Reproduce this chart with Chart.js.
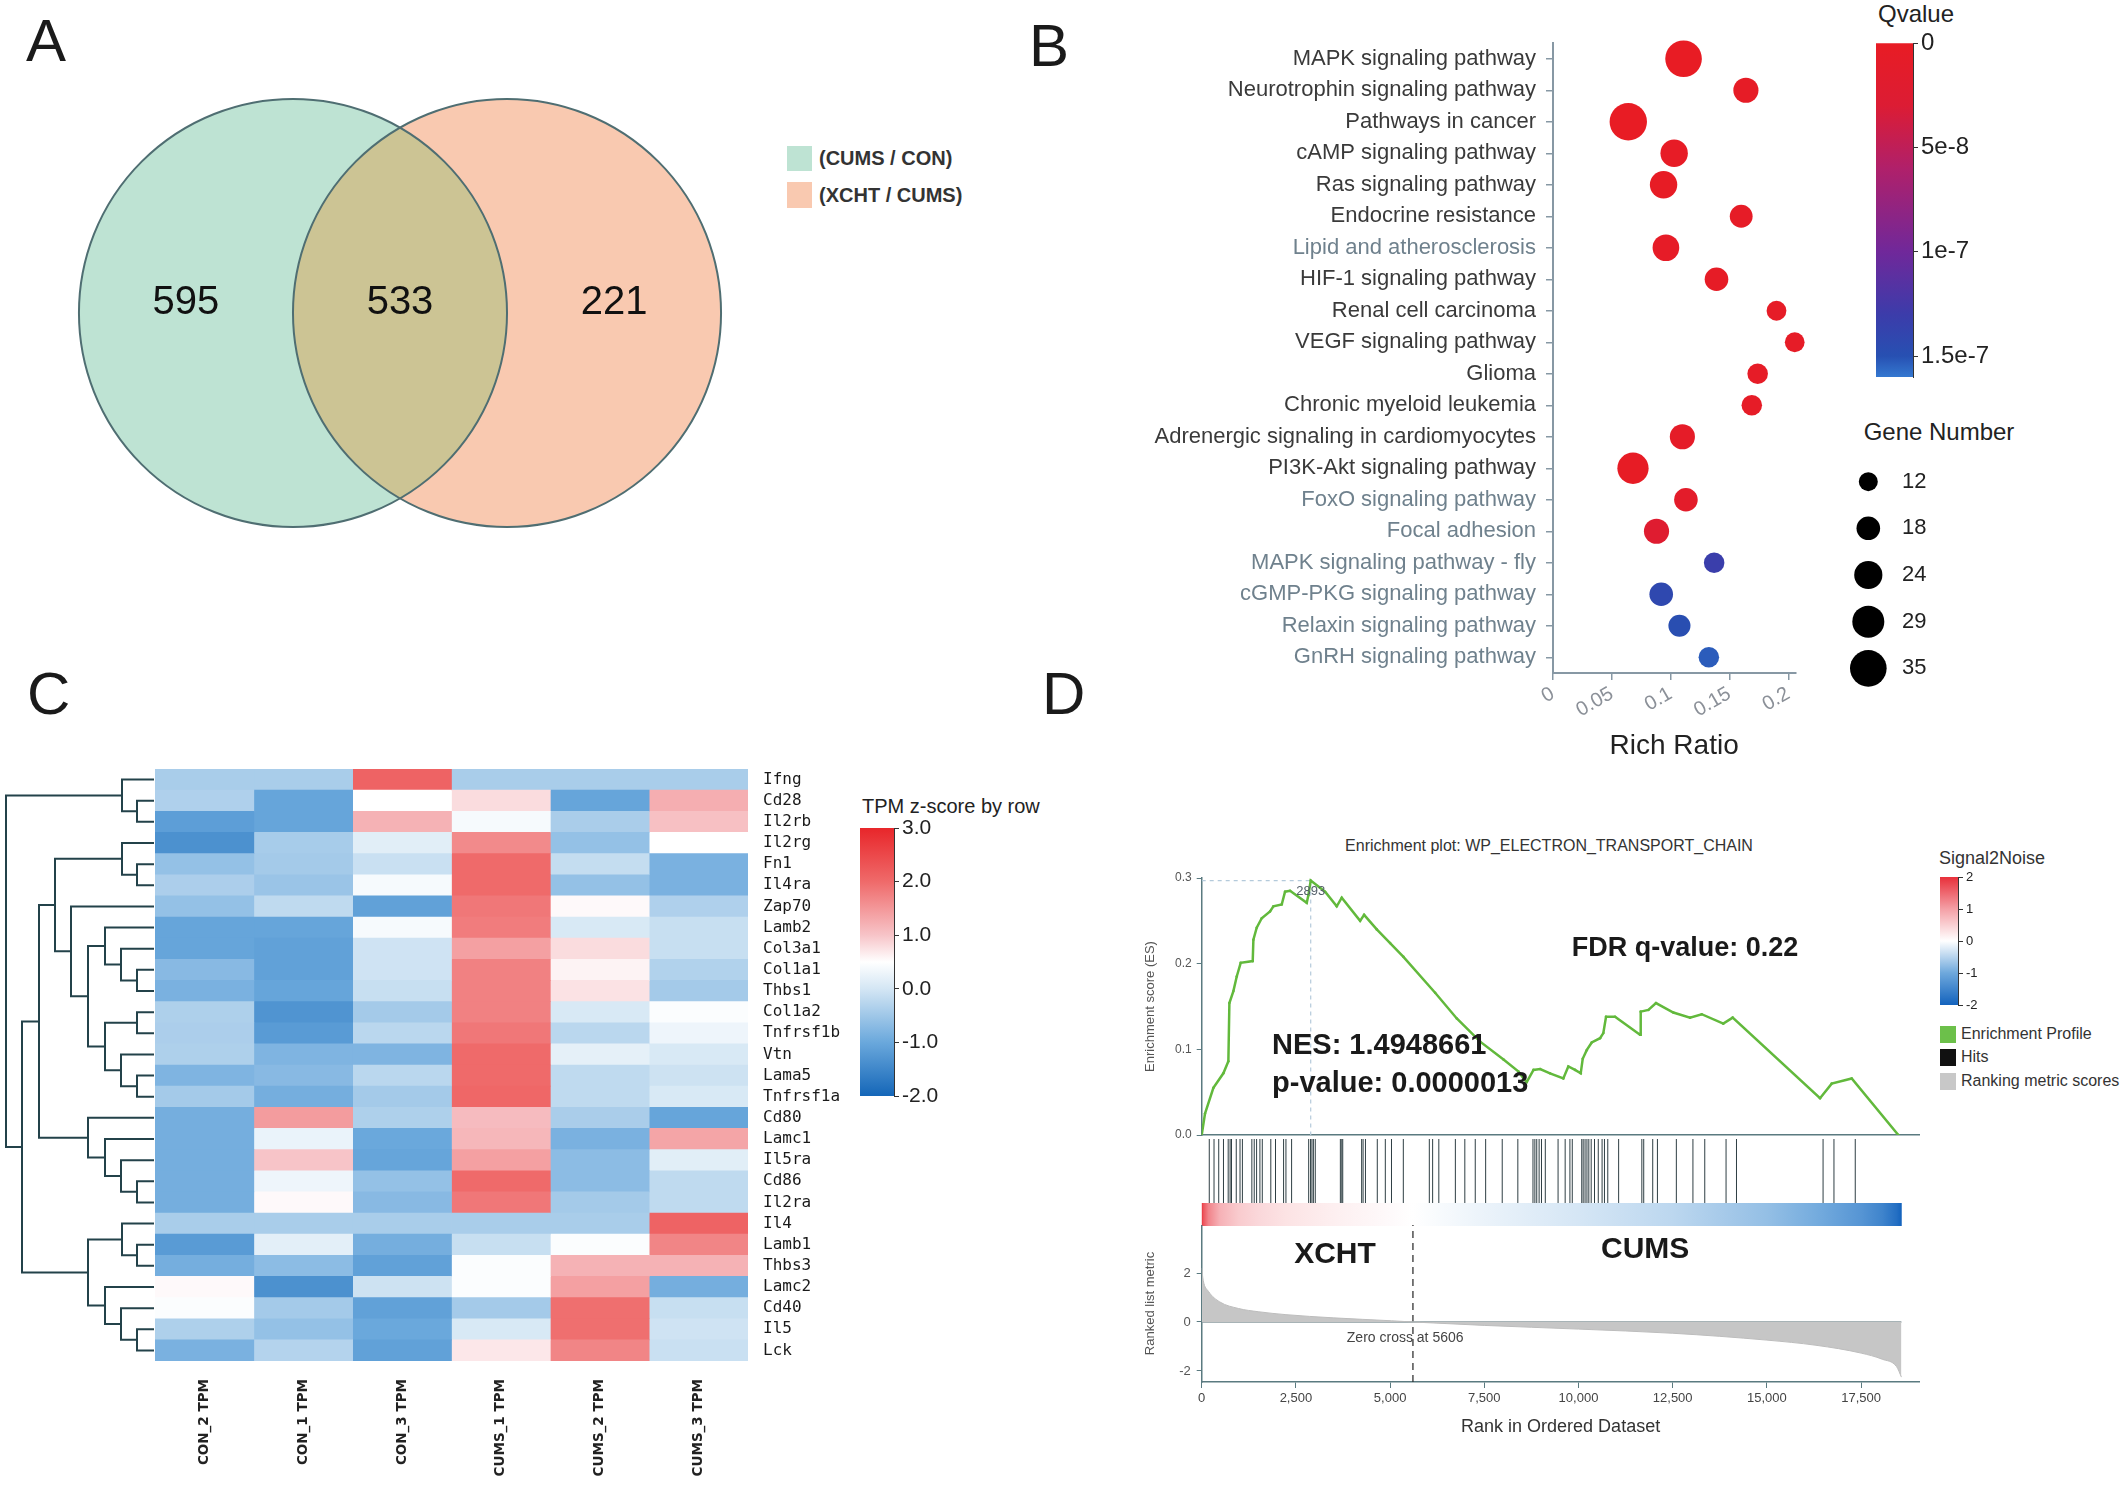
<!DOCTYPE html>
<html>
<head>
<meta charset="utf-8">
<title>Figure</title>
<script src="https://cdn.jsdelivr.net/npm/chart.js@4.4.1/dist/chart.umd.min.js"></script>
<style>
  html, body { margin: 0; padding: 0; background: #fff; }
  body { position: relative; width: 2128px; height: 1486px; overflow: hidden;
         font-family: "Liberation Sans", Arial, sans-serif; color: #222; }
  .t { position: absolute; white-space: nowrap; line-height: 30px; height: 30px; }
  .c { transform: translateX(-50%); }
  .panel { position: absolute; font-size: 60px; line-height: 60px; color: #1a1a1a; }
  .sw { position: absolute; }
</style>
</head>
<body>
<div class="panel" style="left:26px;top:11px">A</div>
<div class="panel" style="left:1029px;top:16px">B</div>
<div class="panel" style="left:27px;top:664px">C</div>
<div class="panel" style="left:1042px;top:664px">D</div>

<!-- venn legend -->
<div class="sw" style="left:787px;top:146px;width:25px;height:25px;background:#bee3d3"></div>
<div class="sw" style="left:787px;top:182px;width:25px;height:26px;background:#f9c9b0"></div>
<div class="t" id="vennLeg0" style="left:819px;top:143px;font-size:20px;font-weight:bold;color:#333"></div>
<div class="t" id="vennLeg1" style="left:819px;top:180px;font-size:20px;font-weight:bold;color:#333"></div>

<!-- legend titles -->
<div class="t c" style="left:1916px;top:-1px;font-size:24px">Qvalue</div>
<div class="t c" style="left:1939px;top:417px;font-size:24px">Gene Number</div>
<div class="t" style="left:862px;top:791px;font-size:20px">TPM z-score by row</div>
<div class="t c" style="left:1549px;top:831px;font-size:16px;color:#333">Enrichment plot: WP_ELECTRON_TRANSPORT_CHAIN</div>
<div class="t" style="left:1939px;top:843px;font-size:18px;color:#333">Signal2Noise</div>

<!-- gsea legend -->
<div class="sw" style="left:1940px;top:1026px;width:16px;height:17px;background:#6cc04a"></div>
<div class="sw" style="left:1940px;top:1049px;width:16px;height:17px;background:#111"></div>
<div class="sw" style="left:1940px;top:1073px;width:16px;height:17px;background:#c8c8c8"></div>
<div class="t" style="left:1961px;top:1019px;font-size:16px;color:#333">Enrichment Profile</div>
<div class="t" style="left:1961px;top:1042px;font-size:16px;color:#333">Hits</div>
<div class="t" style="left:1961px;top:1066px;font-size:16px;color:#333">Ranking metric scores</div>

<script>
// ---------- A: Venn
const vennSets = ['(CUMS / CON)', '(XCHT / CUMS)'];
const vennCounts = [595, 533, 221];   // only first, shared, only second

// ---------- B: KEGG enrichment bubbles
const pathways = [
  'MAPK signaling pathway', 'Neurotrophin signaling pathway', 'Pathways in cancer',
  'cAMP signaling pathway', 'Ras signaling pathway', 'Endocrine resistance',
  'Lipid and atherosclerosis', 'HIF-1 signaling pathway', 'Renal cell carcinoma',
  'VEGF signaling pathway', 'Glioma', 'Chronic myeloid leukemia',
  'Adrenergic signaling in cardiomyocytes', 'PI3K-Akt signaling pathway',
  'FoxO signaling pathway', 'Focal adhesion', 'MAPK signaling pathway - fly',
  'cGMP-PKG signaling pathway', 'Relaxin signaling pathway', 'GnRH signaling pathway'
];
const richRatio = [0.111, 0.164, 0.064, 0.103, 0.094, 0.160, 0.096, 0.139, 0.190, 0.2055,
                   0.174, 0.169, 0.110, 0.068, 0.113, 0.088, 0.137, 0.092, 0.1075, 0.1325];
const geneNumber = [35, 20, 36, 23, 23, 17, 22, 18, 13, 13, 14, 14, 20, 28, 18, 20, 14, 18, 16, 14];
const qValue = [2e-10, 4e-9, 1e-10, 3e-9, 2e-9, 6e-9, 5e-9, 4e-9, 5e-9, 5e-9,
                6e-9, 6e-9, 8e-9, 2e-9, 1.2e-8, 2.2e-8, 1.32e-7, 1.42e-7, 1.48e-7, 1.53e-7];
const richTicks = [0, 0.05, 0.1, 0.15, 0.2];
const qTicks = [0, 5e-8, 1e-7, 1.5e-7];
const qTickLabels = ['0', '5e-8', '1e-7', '1.5e-7'];
const geneNumberKeys = [12, 18, 24, 29, 35];

// ---------- C: heatmap (row z-scores)
const genes = ['Ifng', 'Cd28', 'Il2rb', 'Il2rg', 'Fn1', 'Il4ra', 'Zap70', 'Lamb2', 'Col3a1',
  'Col1a1', 'Thbs1', 'Col1a2', 'Tnfrsf1b', 'Vtn', 'Lama5', 'Tnfrsf1a', 'Cd80', 'Lamc1',
  'Il5ra', 'Cd86', 'Il2ra', 'Il4', 'Lamb1', 'Thbs3', 'Lamc2', 'Cd40', 'Il5', 'Lck'];
const samples = ['CON_2 TPM', 'CON_1 TPM', 'CON_3 TPM', 'CUMS_1 TPM', 'CUMS_2 TPM', 'CUMS_3 TPM'];
const zCon2  = [-0.41, -0.35, -1.15, -1.35, -0.6, -0.38, -0.6, -1.05, -1.05, -0.72, -0.85, -0.36, -0.38, -0.36,
                -0.8, -0.45, -0.9, -0.9, -0.9, -0.9, -0.9, -0.41, -1.2, -0.9, 0.55, 0.45, -0.36, -0.85];
const zCon1  = [-0.41, -1.05, -1.05, -0.42, -0.45, -0.55, -0.2, -1.05, -1.1, -1.1, -1.05, -1.3, -1.2, -0.8,
                -0.72, -0.9, 1.45, 0.25, 1.0, 0.3, 0.55, -0.41, 0.18, -0.68, -1.35, -0.45, -0.6, -0.3];
const zCon3  = [2.1, 0.5, 1.2, 0.15, -0.1, 0.4, -1.1, 0.4, -0.05, -0.05, -0.12, -0.45, -0.25, -0.8,
                -0.25, -0.45, -0.36, -1.0, -1.05, -0.6, -0.72, -0.41, -0.9, -1.1, -0.07, -1.1, -1.0, -1.1];
const zCums1 = [-0.41, 0.8, 0.4, 1.65, 2.0, 2.0, 1.85, 1.8, 1.4, 1.75, 1.75, 1.75, 1.85, 2.0,
                2.0, 2.05, 1.1, 1.15, 1.4, 2.0, 1.85, -0.41, -0.12, 0.45, 0.45, -0.45, 0.05, 0.7];
const zCums2 = [-0.41, -1.05, -0.4, -0.6, -0.15, -0.6, 0.55, 0.05, 0.8, 0.6, 0.75, 0.05, -0.25, 0.2,
                -0.2, -0.2, -0.4, -0.85, -0.68, -0.68, -0.45, -0.41, 0.45, 1.2, 1.4, 1.95, 1.95, 1.7];
const zCums3 = [-0.41, 1.25, 1.05, 0.5, -0.85, -0.85, -0.35, -0.12, -0.12, -0.33, -0.45, 0.45, 0.3, 0.05,
                -0.07, 0.05, -1.05, 1.35, 0.15, -0.2, -0.2, 2.1, 1.7, 1.2, -0.9, -0.12, -0.05, -0.1];
const zTicks = [-2, -1, 0, 1, 2, 3];
// row dendrogram: [left node, right node, height]; leaves are 0..27, merges numbered from 28
const geneTree = [
  [1, 2, 17], [0, 28, 32], [4, 5, 17], [3, 30, 32], [9, 10, 17], [8, 32, 33], [7, 33, 49],
  [11, 12, 17], [14, 15, 17], [13, 36, 33], [35, 37, 49], [34, 38, 66], [6, 39, 83], [31, 40, 99],
  [19, 20, 17], [18, 42, 33], [17, 43, 49], [16, 44, 66], [41, 45, 115],
  [22, 23, 17], [21, 47, 32], [26, 27, 17], [25, 49, 33], [24, 50, 49], [48, 51, 66],
  [46, 52, 132], [29, 53, 148]
];

// ---------- D: GSEA
const esRanks = [0, 88, 310, 575, 708, 735, 841, 930, 1035, 1354, 1372, 1460, 1593, 1814, 1903, 2124,
  2212, 2345, 2788, 2832, 2893, 3275, 3584, 3717, 4204, 4310, 4646, 5000, 5354, 6195, 6770, 7390,
  8010, 8408, 8540, 8629, 8806, 8983, 9244, 9597, 9730, 9908, 10059, 10112, 10218, 10351, 10572,
  10659, 10731, 10970, 11633, 11651, 11855, 12057, 12517, 12960, 13270, 13843, 14092, 16410, 16720,
  17251, 18488];
const esScores = [0, 0.025, 0.055, 0.072, 0.086, 0.154, 0.168, 0.185, 0.201, 0.203, 0.228, 0.242, 0.253,
  0.261, 0.267, 0.269, 0.284, 0.285, 0.271, 0.280, 0.297, 0.284, 0.267, 0.277, 0.250, 0.257, 0.240,
  0.224, 0.208, 0.166, 0.136, 0.109, 0.088, 0.074, 0.066, 0.062, 0.076, 0.077, 0.072, 0.066, 0.080,
  0.076, 0.072, 0.089, 0.099, 0.108, 0.113, 0.119, 0.138, 0.138, 0.117, 0.144, 0.146, 0.154, 0.143,
  0.137, 0.141, 0.130, 0.137, 0.043, 0.060, 0.066, 0];
const peakRank = 2893;
const hitRanks = [201, 327, 452, 578, 703, 754, 791, 917, 1017, 1080, 1331, 1394, 1457, 1545, 1608,
  1834, 1959, 2173, 2236, 2386, 2839, 2889, 2926, 2964, 3014, 3680, 3718, 3743, 4245, 4283, 4346,
  4660, 4873, 5037, 5351, 6041, 6129, 6293, 6732, 6983, 7260, 7536, 7976, 8390, 8792, 8842, 8892,
  8955, 9018, 9119, 9458, 9646, 9772, 9835, 10086, 10124, 10174, 10224, 10274, 10337, 10425, 10525,
  10626, 10689, 10777, 11065, 11681, 11731, 11970, 12095, 12597, 13037, 13351, 13916, 14193, 16491,
  16780, 17345];
const metricRanks  = [0, 40, 180, 480, 980, 1500, 2236, 3490, 5037, 5606, 7500, 10000, 12500, 15000,
  16300, 17500, 18060, 18440, 18570];
const metricValues = [2.2, 1.7, 1.25, 0.82, 0.55, 0.42, 0.3, 0.17, 0.05, 0, -0.14, -0.29, -0.46, -0.74,
  -0.95, -1.27, -1.52, -1.82, -2.25];
const rankTicks = [0, 2500, 5000, 7500, 10000, 12500, 15000, 17500];
const metricTicks = [-2, 0, 2];
const s2nTicks = [-2, -1, 0, 1, 2];
const zeroCross = 5606;

// ---------- styles
const zStops = [[-2, '#1466b8'], [-1, '#6aa8dc'], [0, '#d4e6f4'], [0.5, '#ffffff'],
                [1, '#f7c4c8'], [2, '#ef6a6a'], [3, '#e8262a']];
const qStops = [[0, '#e81c24'], [3e-8, '#dc1c34'], [6e-8, '#b0206a'], [1e-7, '#70289a'],
                [1.3e-7, '#3c3caa'], [1.5e-7, '#2750b2'], [1.6e-7, '#3478d0']];
const s2nStops = [[-2, '#1463bd'], [-1, '#6ea8dc'], [0, '#ffffff'], [1, '#f4a0a6'], [2, '#e8303a']];
const pathwayShade = pathways.map((p, i) => [6, 14, 15, 16, 17, 18, 19].includes(i) ? '#6f818d' : '#3a3a3a');
const axisGray = '#8798a4';
const axisTeal = '#5a7a80';
const RANK_MAX = 19050;

Chart.defaults.font.family = '"Liberation Sans", Arial, sans-serif';
Chart.defaults.animation = false;
Chart.defaults.plugins.legend.display = false;
Chart.defaults.plugins.tooltip.enabled = false;
Chart.defaults.responsive = false;

document.getElementById('vennLeg0').textContent = vennSets[0];
document.getElementById('vennLeg1').textContent = vennSets[1];

function mk(left, top, w, h) {
  const c = document.createElement('canvas');
  c.width = w; c.height = h;
  c.style.cssText = `position:absolute;left:${left}px;top:${top}px;width:${w}px;height:${h}px`;
  document.body.appendChild(c);
  return c;
}
function rgb(h) { const n = parseInt(h.slice(1), 16); return [n >> 16 & 255, n >> 8 & 255, n & 255]; }
function rampColor(stops, v) {
  if (v <= stops[0][0]) return stops[0][1];
  for (let i = 1; i < stops.length; i++) {
    if (v <= stops[i][0]) {
      const [v0, c0] = stops[i - 1], [v1, c1] = stops[i];
      const t = (v - v0) / (v1 - v0), a = rgb(c0), b = rgb(c1);
      return 'rgb(' + a.map((x, k) => Math.round(x + (b[k] - x) * t)).join(',') + ')';
    }
  }
  return stops[stops.length - 1][1];
}
const geneRadius = n => 9.5 + (n - 12) * 0.383;
const noPad = s => { s.paddingTop = 0; s.paddingBottom = 0; s.paddingLeft = 0; s.paddingRight = 0; };
const fixTicks = list => s => { s.ticks = list.map(v => ({value: v})); };

// text placed in data coordinates
const notes = list => ({
  id: 'notes',
  afterDatasetsDraw(chart) {
    const {ctx, scales: {x, y}} = chart;
    ctx.save();
    list.forEach(n => {
      ctx.font = n.font;
      ctx.fillStyle = n.color || '#111';
      ctx.textAlign = n.align || 'left';
      ctx.textBaseline = 'middle';
      ctx.fillText(n.text, x.getPixelForValue(n.x), y.getPixelForValue(n.y));
    });
    ctx.restore();
  }
});

// ================= A: Venn
const vennCenters = [-0.5, 0.5];
const vennFill = ['#bee3d3', '#f9c9b0'];
const unitPx = ch => ch.scales.x.getPixelForValue(1) - ch.scales.x.getPixelForValue(0);
const vennDraw = {
  id: 'vennDraw',
  afterDatasetsDraw(chart) {
    const pts = chart.getDatasetMeta(0).data;
    const r = unitPx(chart), ctx = chart.ctx;
    const circle = p => { ctx.beginPath(); ctx.arc(p.x, p.y, r, 0, 2 * Math.PI); };
    ctx.save();
    pts.forEach((p, i) => { circle(p); ctx.fillStyle = vennFill[i]; ctx.fill(); });
    circle(pts[0]); ctx.clip();
    circle(pts[1]); ctx.fillStyle = '#ccc494'; ctx.fill();
    ctx.restore();
    ctx.save();
    ctx.strokeStyle = '#4f6e72'; ctx.lineWidth = 2;
    pts.forEach(p => { circle(p); ctx.stroke(); });
    ctx.restore();
  }
};
new Chart(mk(40, 63, 720, 500), {
  type: 'scatter',
  data: {datasets: [{data: vennCenters.map(x => ({x, y: 0})), pointRadius: 0}]},
  options: {
    layout: {padding: 0},
    scales: {
      x: {display: false, min: -1.682, max: 1.682},
      y: {display: false, min: -1.168, max: 1.168}
    }
  },
  plugins: [vennDraw, notes([
    {text: String(vennCounts[0]), x: vennCenters[0] - 0.5, y: 0.045, font: '40px "Liberation Sans"', align: 'center'},
    {text: String(vennCounts[1]), x: (vennCenters[0] + vennCenters[1]) / 2, y: 0.045, font: '40px "Liberation Sans"', align: 'center'},
    {text: String(vennCounts[2]), x: vennCenters[1] + 0.5, y: 0.045, font: '40px "Liberation Sans"', align: 'center'}
  ])]
});

// ================= B: bubble chart
new Chart(mk(1064, 0, 750, 763), {
  type: 'bubble',
  data: {
    datasets: [{
      data: pathways.map((p, i) => ({x: richRatio[i], y: p})),
      radius: c => geneRadius(geneNumber[c.dataIndex]),
      backgroundColor: c => rampColor(qStops, qValue[c.dataIndex]),
      borderWidth: 0,
      clip: false
    }]
  },
  options: {
    layout: {padding: {top: 43, right: 12, left: 0, bottom: 0}},
    scales: {
      x: {
        type: 'linear', min: 0, max: 0.206,
        afterBuildTicks: fixTicks(richTicks),
        ticks: {callback: v => String(+v.toFixed(2)), minRotation: 30, maxRotation: 30,
                font: {size: 20}, color: '#8b9098', padding: 2},
        grid: {drawOnChartArea: false, tickLength: 7, color: axisGray, lineWidth: 1.5},
        border: {color: axisGray, width: 2},
        title: {display: true, text: 'Rich Ratio', font: {size: 28}, color: '#222', padding: 0},
        afterFit: s => { s.height = 90; noPad(s); }
      },
      y: {
        type: 'category', labels: pathways, offset: true,
        ticks: {font: {size: 22}, color: c => pathwayShade[c.index], padding: 10, autoSkip: false},
        grid: {drawOnChartArea: false, tickLength: 7, color: axisGray, lineWidth: 1.5},
        border: {color: axisGray, width: 2},
        afterFit: s => { s.width = 489; noPad(s); }
      }
    }
  }
});

// colour bars
function colorbar(canvas, o) {
  return new Chart(canvas, {
    type: 'bar',
    data: {
      labels: [''],
      datasets: [{
        data: [[o.min, o.max]], barPercentage: 1, categoryPercentage: 1, borderWidth: 0,
        backgroundColor: c => {
          const ch = c.chart;
          if (!ch.chartArea) return null;
          const y = ch.scales.y;
          const g = ch.ctx.createLinearGradient(0, y.getPixelForValue(o.min), 0, y.getPixelForValue(o.max));
          o.stops.forEach(([v, col]) => g.addColorStop((v - o.min) / (o.max - o.min), col));
          return g;
        }
      }]
    },
    options: {
      layout: {padding: o.pad},
      scales: {
        x: {display: false},
        y: {
          position: 'right', min: o.min, max: o.max, reverse: !!o.reverse,
          afterBuildTicks: fixTicks(o.ticks),
          ticks: {callback: o.label, font: {size: o.size}, color: '#222', padding: 3},
          grid: {drawOnChartArea: false, tickLength: 5, color: '#333'},
          border: {display: true, color: '#333'},
          afterFit: s => { s.width = o.axisW; noPad(s); }
        }
      }
    }
  });
}
colorbar(mk(1866, 30, 160, 360), {
  min: 0, max: 1.6e-7, reverse: true, ticks: qTicks, stops: qStops, size: 24,
  label: v => qTickLabels[qTicks.indexOf(v)], pad: {left: 10, top: 13, bottom: 13, right: 0}, axisW: 113
});

// gene number key
new Chart(mk(1850, 440, 180, 270), {
  type: 'bubble',
  data: {
    datasets: [{
      data: geneNumberKeys.map(n => ({x: 'k', y: String(n)})),
      radius: c => geneRadius(geneNumberKeys[c.dataIndex]),
      backgroundColor: '#000', borderWidth: 0, clip: false
    }]
  },
  options: {
    layout: {padding: {left: 5, top: 13.75, bottom: 13.75, right: 0}},
    scales: {
      x: {type: 'category', labels: ['k'], display: false},
      y: {
        type: 'category', labels: geneNumberKeys.map(String), position: 'right', offset: true,
        ticks: {font: {size: 22}, color: '#222', padding: 7},
        grid: {display: false, drawTicks: false}, border: {display: false},
        afterFit: s => { s.width = 135; noPad(s); }
      }
    }
  }
});

// ================= C: dendrogram + heatmap
const nodeY = genes.map((g, i) => i + 0.5), nodeH = genes.map(() => 0), dendro = [];
geneTree.forEach(([a, b, h]) => {
  dendro.push({x: nodeH[a], y: nodeY[a]}, {x: h, y: nodeY[a]}, {x: h, y: nodeY[b]},
              {x: nodeH[b], y: nodeY[b]}, {x: h, y: null});
  nodeY.push((nodeY[a] + nodeY[b]) / 2);
  nodeH.push(h);
});
new Chart(mk(4, 769, 150, 592), {
  type: 'scatter',
  data: {datasets: [{data: dendro, showLine: true, borderColor: '#23424a', borderWidth: 2,
                     pointRadius: 0, spanGaps: false, clip: false}]},
  options: {
    layout: {padding: 0},
    scales: {
      x: {display: false, reverse: true, min: 0, max: 150},
      y: {display: false, reverse: true, min: 0, max: genes.length}
    }
  }
});

const zBySample = [zCon2, zCon1, zCon3, zCums1, zCums2, zCums3];
new Chart(mk(155, 769, 720, 717), {
  type: 'bar',
  data: {
    labels: genes,
    datasets: zBySample.map((z, j) => ({
      label: samples[j],
      data: genes.map(() => 1),
      backgroundColor: z.map(v => rampColor(zStops, v)),
      borderWidth: 0, barPercentage: 1, categoryPercentage: 1
    }))
  },
  options: {
    indexAxis: 'y',
    layout: {padding: 0},
    scales: {
      x: {
        type: 'linear', stacked: true, min: 0, max: samples.length,
        afterBuildTicks: s => { s.ticks = samples.map((n, j) => ({value: j + 0.5})); },
        ticks: {callback: (v, i) => samples[i], minRotation: 90, maxRotation: 90, autoSkip: false,
                font: {family: '"DejaVu Sans"', size: 13.5, weight: 'bold'}, color: '#222', padding: 18},
        grid: {display: false, drawTicks: false}, border: {display: false},
        afterFit: s => { s.height = 125; noPad(s); }
      },
      y: {
        stacked: true, position: 'right',
        ticks: {font: {family: '"DejaVu Sans Mono"', size: 16}, color: '#1a1a1a', padding: 15, autoSkip: false},
        grid: {display: false, drawTicks: false}, border: {display: false},
        afterFit: s => { s.width = 127; noPad(s); }
      }
    }
  }
});
colorbar(mk(850, 818, 130, 290), {
  min: -2, max: 3, ticks: zTicks, stops: zStops, size: 21,
  label: v => v.toFixed(1), pad: {left: 10, top: 10, bottom: 12, right: 0}, axisW: 86
});

// ================= D: GSEA
const esPeak = Math.max(...esScores);
const lastRank = metricRanks[metricRanks.length - 1];
new Chart(mk(1100, 868, 830, 274), {
  type: 'scatter',
  data: {
    datasets: [
      {data: esRanks.map((r, i) => ({x: r, y: esScores[i]})), showLine: true, borderColor: '#62b93c',
       borderWidth: 2.5, pointRadius: 1.3, pointBackgroundColor: '#62b93c', pointBorderWidth: 0},
      {data: [{x: 0, y: esPeak}, {x: peakRank, y: esPeak}, {x: peakRank, y: 0}], showLine: true,
       borderColor: '#b4cadb', borderWidth: 1.2, borderDash: [4, 4], pointRadius: 0}
    ]
  },
  options: {
    layout: {padding: {top: 10, right: 10.5, left: 0, bottom: 0}},
    scales: {
      x: {type: 'linear', min: 0, max: RANK_MAX, ticks: {display: false}, grid: {display: false},
          border: {color: axisTeal, width: 1.5}, afterFit: s => { s.height = 7; noPad(s); }},
      y: {
        min: 0, max: 0.3,
        afterBuildTicks: fixTicks([0, 0.1, 0.2, 0.3]),
        ticks: {callback: v => v.toFixed(1), font: {size: 12}, color: '#555', padding: 5},
        grid: {drawOnChartArea: false, tickLength: 5, color: axisTeal},
        border: {color: axisTeal, width: 1.5},
        title: {display: true, text: 'Enrichment score (ES)', font: {size: 13}, color: '#555',
                padding: {top: 43, bottom: 0}},
        afterFit: s => { s.width = 101.7; noPad(s); }
      }
    }
  },
  plugins: [notes([
    {text: String(peakRank), x: peakRank, y: 0.284, font: '13px "Liberation Sans"', color: '#55606a', align: 'center'},
    {text: 'NES: 1.4948661', x: 1866, y: 0.104, font: 'bold 29px "Liberation Sans"', color: '#1a1a1a'},
    {text: 'p-value: 0.0000013', x: 1866, y: 0.0595, font: 'bold 29px "Liberation Sans"', color: '#1a1a1a'},
    {text: 'FDR q-value: 0.22', x: 9820, y: 0.218, font: 'bold 27px "Liberation Sans"', color: '#1a1a1a'}
  ])]
});

// hits
new Chart(mk(1100, 1136, 830, 67), {
  type: 'scatter',
  data: {datasets: [{data: hitRanks.flatMap(r => [{x: r, y: 0}, {x: r, y: 1}, {x: r, y: null}]),
                     showLine: true, borderColor: '#2f3f44', borderWidth: 1, pointRadius: 0, spanGaps: false}]},
  options: {
    layout: {padding: {left: 101.7, right: 10.5, top: 3, bottom: 0}},
    scales: {x: {display: false, min: 0, max: RANK_MAX}, y: {display: false, min: 0, max: 1}}
  }
});

// ranked-list colour strip
new Chart(mk(1100, 1203, 830, 23), {
  type: 'bar',
  data: {
    labels: ['s'],
    datasets: [{
      data: [[0, lastRank]], barPercentage: 1, categoryPercentage: 1, borderWidth: 0,
      backgroundColor: c => {
        const ch = c.chart;
        if (!ch.chartArea) return null;
        const x = ch.scales.x;
        const g = ch.ctx.createLinearGradient(x.getPixelForValue(0), 0, x.getPixelForValue(lastRank), 0);
        metricRanks.forEach((r, i) => g.addColorStop(r / lastRank, rampColor(s2nStops, metricValues[i])));
        return g;
      }
    }]
  },
  options: {
    indexAxis: 'y',
    layout: {padding: {left: 101.7, right: 10.5, top: 0, bottom: 0}},
    scales: {x: {display: false, type: 'linear', min: 0, max: RANK_MAX}, y: {display: false}}
  }
});

// ranked list metric
const metricMin = -2.45, metricMax = 3.96;
new Chart(mk(1100, 1225, 830, 213), {
  type: 'scatter',
  data: {
    datasets: [
      {data: metricRanks.map((r, i) => ({x: r, y: metricValues[i]})), showLine: true, fill: 'origin',
       backgroundColor: '#c6c6c6', borderColor: '#bdbdbd', borderWidth: 1, pointRadius: 0,
       cubicInterpolationMode: 'monotone'},
      {data: [{x: 0, y: 0}, {x: lastRank, y: 0}], showLine: true, borderColor: '#8a9a9e',
       borderWidth: 1.5, pointRadius: 0},
      {data: [{x: zeroCross, y: metricMin}, {x: zeroCross, y: metricMax}], showLine: true,
       borderColor: '#333', borderWidth: 1.3, borderDash: [7, 5], pointRadius: 0}
    ]
  },
  options: {
    layout: {padding: {top: 0, right: 10.5, left: 0, bottom: 0}},
    scales: {
      x: {
        type: 'linear', min: 0, max: RANK_MAX,
        afterBuildTicks: fixTicks(rankTicks),
        ticks: {font: {size: 13}, color: '#444', padding: 3, maxRotation: 0},
        grid: {drawOnChartArea: false, tickLength: 6, color: axisTeal},
        border: {color: axisTeal, width: 1.5},
        title: {display: true, text: 'Rank in Ordered Dataset', font: {size: 18}, color: '#333', padding: 0},
        afterFit: s => { s.height = 56; noPad(s); }
      },
      y: {
        min: metricMin, max: metricMax,
        afterBuildTicks: fixTicks(metricTicks),
        ticks: {font: {size: 13}, color: '#555', padding: 6},
        grid: {drawOnChartArea: false, tickLength: 5, color: axisTeal},
        border: {color: axisTeal, width: 1.5},
        title: {display: true, text: 'Ranked list metric', font: {size: 13}, color: '#555',
                padding: {top: 43, bottom: 0}},
        afterFit: s => { s.width = 101.7; noPad(s); }
      }
    }
  },
  plugins: [notes([
    {text: 'XCHT', x: 3538, y: 2.73, font: 'bold 30px "Liberation Sans"', color: '#1a1a1a', align: 'center'},
    {text: 'CUMS', x: 11770, y: 2.94, font: 'bold 30px "Liberation Sans"', color: '#1a1a1a', align: 'center'},
    {text: 'Zero cross at ' + zeroCross, x: 5400, y: -0.65, font: '14px "Liberation Sans"', color: '#444', align: 'center'}
  ])]
});

colorbar(mk(1930, 867, 90, 148), {
  min: -2, max: 2, ticks: s2nTicks, stops: s2nStops, size: 13,
  label: v => String(v), pad: {left: 10, top: 10, bottom: 10, right: 0}, axisW: 62
});
</script>
</body>
</html>
